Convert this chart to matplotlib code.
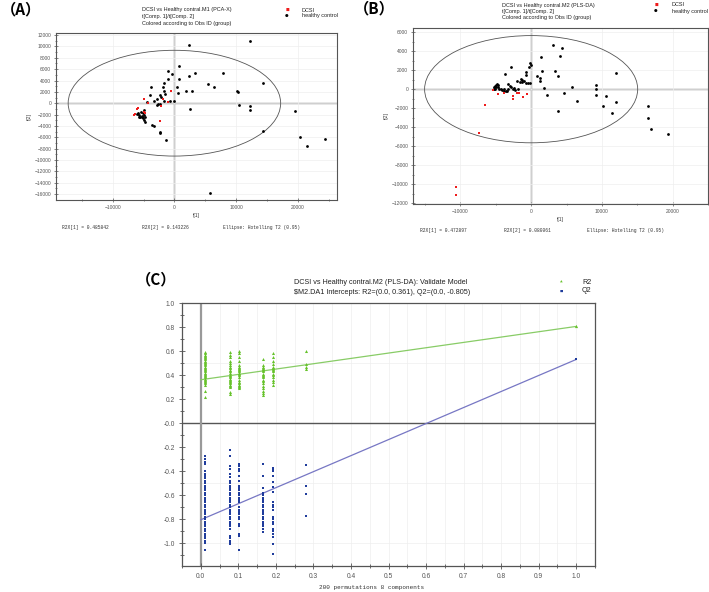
import matplotlib.pyplot as plt
from matplotlib.patches import Ellipse
import numpy as np

plt.rcParams['font.family'] = ['Liberation Sans', 'DejaVu Sans']

# --- Panel A: PCA-X scores (t[1], t[2]) ---
a_hc_x = [2300, 12300, 800, -1000, -400, 2300, 3400, 7900, 800, -1100, -1700, 5400, 6400, 14300,
          -3800, -1900, 400, -1700, 1900, 2800, 600, 10100, 10300, -1500, -3900, -2300, -2100,
          -2900, -3300, -4400, -1700, -700, -100, -2600, -2300, -2800, 10500, 12300, 12300, 2600,
          19500, -5000, -5840, -5680, -5570, -5300, -5030, -4920, -4760, -5460, -5140, -4860,
          -5680, -5240, -6000, -4700, -3700, -3300, -2400, -2300, -1400, 5700, 14300, 20300,
          21400, 24300]
a_hc_y = [10300, 11000, 6600, 5750, 5200, 4800, 5300, 5400, 4300, 4300, 3600, 3400, 2900, 3600,
          2900, 2800, 2800, 2200, 2100, 2100, 1800, 2200, 2000, 1600, 1400, 1400, 1100,
          650, 470, 180, 400, 470, 300, -60, -200, -300, -350, -500, -1200, -1100,
          -1350, -1200, -1820, -2110, -2410, -2520, -2700, -2990, -3290, -1530, -1700, -2110,
          -2520, -2230, -1940, -2520, -3900, -4000, -5000, -5300, -6500, -15900, -4900, -6000,
          -7500, -6300]
a_dcsi_x = [-4900, -500, -1900, -2100, -1000, -6100, -5900, -6600, -6400, -4900, -4800, -2400, -4300]
a_dcsi_y = [700, 2200, 800, -500, 200, -1100, -900, -2100, -1900, -1500, -1800, -3200, 100]

# --- Panel B: PLS-DA scores ---
b_hc_x = [3120, 4360, 1450, 4100, -2860, -130, -40, -340, -770, -770, -3680, 1580, 3330, 12050,
          850, 1280, 1320, 3800, -2050, -1500, -1320, -1240, -980, -680, -380, -170, -3210,
          -3030, 1840, 5770, 9230, 9150, 2180, 4620, 9190, 10640, 6540, 12010, 3760, 10210,
          11500, 16450, 16450, 16920, 19320, -5260, -5130, -5000, -4870, -4740, -4910, -4660,
          -4530, -5260, -5090, -4320, -4060, -3800, -3550, -3250, -2820, -2610, -2390, -2260,
          -3460, -3890, -1880, -1540]
b_hc_y = [4680, 4300, 3350, 3520, 2390, 2710, 2540, 2360, 1830, 1480, 1550, 1940, 1940, 1730,
          1340, 1230, 880, 1370, 880, 1060, 950, 770, 880, 630, 700, 670, 600,
          350, 110, 280, 460, 0, -630, -390, -600, -700, -1270, -1300, -2320, -1760,
          -2540, -1760, -3030, -4150, -4680, 280, 350, 420, 530, 420, 180, 280,
          70, 70, 0, 0, -110, -210, -210, 0, 180, 70, 140, -70,
          -140, 70, 0, 810]
b_dcsi_x = [-5380, -4620, -3850, -2610, -2520, -2010, -1750, -1110, -600, -6580, -7440, -10680, -10600]
b_dcsi_y = [-70, -530, -350, -990, -700, -420, -420, -810, -530, -1690, -4610, -10280, -11160]

# --- Panel C: permutation test ---
perm_x = [0.012, 0.077, 0.102, 0.165, 0.193, 0.281]
r2_cols = [
    [0.59, 0.58, 0.57, 0.56, 0.55, 0.54, 0.53, 0.52, 0.51, 0.50, 0.49, 0.48, 0.47, 0.46, 0.45,
     0.44, 0.43, 0.42, 0.41, 0.40, 0.39, 0.38, 0.37, 0.36, 0.35, 0.34, 0.33, 0.32, 0.27, 0.22],
    [0.59, 0.57, 0.55, 0.52, 0.50, 0.48, 0.47, 0.46, 0.44, 0.43, 0.42, 0.40, 0.39, 0.38, 0.37,
     0.36, 0.35, 0.34, 0.33, 0.32, 0.31, 0.30, 0.26, 0.24],
    [0.60, 0.58, 0.55, 0.52, 0.48, 0.47, 0.46, 0.45, 0.44, 0.43, 0.42, 0.41, 0.40, 0.38, 0.36,
     0.34, 0.33, 0.32, 0.31, 0.30, 0.29],
    [0.53, 0.48, 0.47, 0.46, 0.45, 0.44, 0.43, 0.41, 0.40, 0.39, 0.38, 0.36, 0.35, 0.33, 0.31,
     0.29, 0.27, 0.25, 0.23],
    [0.58, 0.55, 0.52, 0.49, 0.47, 0.46, 0.45, 0.44, 0.43, 0.41, 0.40, 0.38, 0.36, 0.34, 0.32],
    [0.60, 0.49, 0.47, 0.45],
]
q2_cols = [
    [-0.27, -0.30, -0.32, -0.34, -0.40, -0.42, -0.44, -0.46, -0.48, -0.50, -0.52, -0.54, -0.56,
     -0.58, -0.60, -0.62, -0.64, -0.66, -0.68, -0.70, -0.72, -0.74, -0.76, -0.78, -0.80, -0.82,
     -0.84, -0.86, -0.88, -0.90, -0.92, -0.94, -0.96, -0.98, -1.00, -1.06],
    [-0.22, -0.27, -0.36, -0.38, -0.42, -0.45, -0.48, -0.50, -0.52, -0.54, -0.56, -0.58, -0.60,
     -0.62, -0.64, -0.66, -0.68, -0.70, -0.72, -0.74, -0.76, -0.78, -0.80, -0.82, -0.84, -0.86,
     -0.88, -0.94, -0.96, -0.98, -1.00, -1.01],
    [-0.34, -0.36, -0.38, -0.40, -0.44, -0.48, -0.52, -0.54, -0.56, -0.58, -0.60, -0.62, -0.64,
     -0.66, -0.70, -0.72, -0.74, -0.76, -0.78, -0.80, -0.84, -0.86, -0.92, -0.94, -1.06],
    [-0.34, -0.44, -0.54, -0.58, -0.60, -0.62, -0.64, -0.66, -0.68, -0.70, -0.72, -0.74, -0.76,
     -0.78, -0.80, -0.82, -0.84, -0.86, -0.88, -0.91],
    [-0.37, -0.39, -0.40, -0.44, -0.49, -0.53, -0.57, -0.66, -0.68, -0.70, -0.72, -0.78, -0.80,
     -0.82, -0.84, -0.88, -0.90, -0.92, -0.95, -1.01, -1.09],
    [-0.35, -0.52, -0.59, -0.77],
]
line_x = [0.0, 1.0]
r2_line = [0.361, 0.805]
q2_line = [-0.805, 0.53]

TICK_C = '#555555'
MONO = 'Liberation Mono'
CJK = ['Noto Sans CJK SC', 'DejaVu Sans']


def score_panel(ax, hc_x, hc_y, dc_x, dc_y, xlim, ylim, ell, yticks):
    ax.set_xlim(*xlim)
    ax.set_ylim(*ylim)
    ax.set_xticks([-10000, 0, 10000, 20000])
    ax.set_xticks(np.arange(-15000, 25001, 5000), minor=True)
    ax.set_yticks(yticks)
    ax.set_yticks(np.arange(yticks[0], yticks[-1] + 1, 1000), minor=True)
    ax.tick_params(which='both', direction='inout', length=3, width=0.5, colors=TICK_C,
                   labelsize=3.5, pad=2)
    ax.tick_params(which='minor', length=2)
    ax.grid(True, which='major', color='#eeeeee', linewidth=0.5)
    for s in ax.spines.values():
        s.set_color('#555555')
        s.set_linewidth(0.8)
    ax.axhline(0, color='#888888', linewidth=1.0, zorder=1)
    ax.axvline(0, color='#888888', linewidth=1.0, zorder=1)
    ax.add_patch(Ellipse((0, 0), 2 * ell[0], 2 * ell[1], fill=False, edgecolor='#555555',
                         linewidth=0.6, zorder=2))
    ax.plot(hc_x, hc_y, 'o', color='black', markersize=2.0, markeredgewidth=0, zorder=3)
    ax.plot(dc_x, dc_y, 's', color='#ee1c1c', markersize=2.0, markeredgewidth=0, zorder=4,
            snap=False)


fig = plt.figure(figsize=(7.09, 5.92), dpi=100)
W, H = 709, 592


def fx(px):
    return px / W


def fy(py):
    return 1 - py / H


# ---------- Panel A ----------
axA = fig.add_axes([fx(56), fy(200), fx(337 - 56), (200 - 33) / H])
score_panel(axA, a_hc_x, a_hc_y, a_dcsi_x, a_dcsi_y, (-19170, 26320), (-17080, 12380),
            (17200, 9330), list(range(-16000, 12001, 2000)))
axA.set_xlabel('t[1]', fontsize=3.5, labelpad=2, color='#333333')
axA.set_ylabel('t[2]', fontsize=3.5, labelpad=2, color='#333333')

fig.text(fx(1), fy(9), '（A）', fontsize=11, fontweight='bold', va='center', family=CJK)
for i, t in enumerate(['DCSI vs Healthy contral.M1 (PCA-X)', 't[Comp. 1]/t[Comp. 2]',
                       'Colored according to Obs ID (group)']):
    fig.text(fx(142), fy(10 + 6.5 * i), t, fontsize=4, va='center', color='#222222')
fig.text(fx(287), fy(10), '■', color='#ee1c1c', fontsize=2.8, va='center', ha='center', family='DejaVu Sans')
fig.text(fx(287), fy(16), '●', color='black', fontsize=3, va='center', ha='center', family='DejaVu Sans')
fig.text(fx(302), fy(10), 'DCSI', fontsize=4, va='center', color='#222222')
fig.text(fx(302), fy(16), 'healthy control', fontsize=4, va='center', color='#222222')
for x, t in [(62, 'R2X[1] = 0.485842'), (142, 'R2X[2] = 0.143226'),
             (223, 'Ellipse: Hotelling T2 (0.95)')]:
    fig.text(fx(x), fy(227), t, fontsize=3.3, family=MONO, va='center', color='#333333')

# ---------- Panel B ----------
axB = fig.add_axes([fx(413), fy(204), fx(708 - 413), (204 - 28) / H])
score_panel(axB, b_hc_x, b_hc_y, b_dcsi_x, b_dcsi_y, (-16700, 21100), (-12100, 6450),
            (15060, 5650), list(range(-12000, 6001, 2000)))
axB.set_xlabel('t[1]', fontsize=3.5, labelpad=2, color='#333333')
axB.set_ylabel('t[2]', fontsize=3.5, labelpad=2, color='#333333')

fig.text(fx(354), fy(8), '（B）', fontsize=11, fontweight='bold', va='center', family=CJK)
for i, t in enumerate(['DCSI vs Healthy contral.M2 (PLS-DA)', 't[Comp. 1]/t[Comp. 2]',
                       'Colored according to Obs ID (group)']):
    fig.text(fx(502), fy(5 + 6.5 * i), t, fontsize=4, va='center', color='#222222')
fig.text(fx(656), fy(5), '■', color='#ee1c1c', fontsize=2.8, va='center', ha='center', family='DejaVu Sans')
fig.text(fx(656), fy(11), '●', color='black', fontsize=3, va='center', ha='center', family='DejaVu Sans')
fig.text(fx(672), fy(5), 'DCSI', fontsize=4, va='center', color='#222222')
fig.text(fx(672), fy(11), 'healthy control', fontsize=4, va='center', color='#222222')
for x, t in [(420, 'R2X[1] = 0.472897'), (504, 'R2X[2] = 0.080061'),
             (587, 'Ellipse: Hotelling T2 (0.95)')]:
    fig.text(fx(x), fy(231), t, fontsize=3.3, family=MONO, va='center', color='#333333')

# ---------- Panel C ----------
axC = fig.add_axes([fx(182), fy(566), fx(595 - 182), (566 - 303) / H])
axC.set_xlim(-0.05, 1.05)
axC.set_ylim(-1.19, 1.0)
axC.set_xticks(np.arange(0, 1.01, 0.1))
axC.set_xticks(np.arange(-0.05, 1.051, 0.05), minor=True)
axC.set_yticks(np.arange(-1.0, 1.01, 0.2))
axC.set_yticks(np.arange(-1.1, 1.01, 0.1), minor=True)
axC.set_yticklabels(['-1.0', '-0.8', '-0.6', '-0.4', '-0.2', '-0.0', '0.2', '0.4', '0.6', '0.8', '1.0'])
axC.set_xticklabels(['%.1f' % v for v in np.arange(0, 1.01, 0.1)])
axC.tick_params(which='both', direction='inout', length=4, width=0.6, colors=TICK_C,
                labelsize=4.8, pad=3)
axC.tick_params(which='minor', length=3)
for v in np.arange(-0.05, 1.051, 0.05):
    axC.axvline(v, color='#eeeeee', linewidth=0.5, zorder=0)
for v in [-1.0, -0.5, 0.5]:
    axC.axhline(v, color='#eeeeee', linewidth=0.5, zorder=0)
for s in axC.spines.values():
    s.set_color('#555555')
    s.set_linewidth(0.9)
axC.axhline(0, color='#555555', linewidth=1.0, zorder=1)
axC.axvline(0, color='#999999', linewidth=1.6, zorder=1)

axC.plot(line_x, r2_line, color='#88cc66', linewidth=0.9, zorder=2)
axC.plot(line_x, q2_line, color='#7777c4', linewidth=0.9, zorder=2)
for x, col in zip(perm_x, r2_cols):
    axC.plot([x] * len(col), col, '^', color='#66c22a', markersize=2.2, markeredgewidth=0, zorder=3,
             snap=False)
for x, col in zip(perm_x, q2_cols):
    axC.plot([x] * len(col), col, 's', color='#1f3c9c', markersize=2.0, markeredgewidth=0, zorder=3,
             snap=False)
axC.plot([line_x[1]], [r2_line[1]], '^', color='#66c22a', markersize=2.3, markeredgewidth=0, zorder=3,
         snap=False)
axC.plot([line_x[1]], [q2_line[1]], 's', color='#1f3c9c', markersize=2.0, markeredgewidth=0, zorder=3,
         snap=False)

fig.text(fx(294), fy(282), 'DCSI vs Healthy contral.M2 (PLS-DA): Validate Model', fontsize=5.2,
         va='center', color='#222222')
fig.text(fx(294), fy(292), r'\$M2.DA1 Intercepts: R2=(0.0, 0.361), Q2=(0.0, -0.805)',
         fontsize=5.2, va='center', color='#222222')
fig.text(fx(561), fy(282), '▲', color='#66c22a', fontsize=2.5, va='center', ha='center', family='DejaVu Sans')
fig.text(fx(561), fy(291), '■', color='#1f3c9c', fontsize=2.5, va='center', ha='center', family='DejaVu Sans')
fig.text(fx(582), fy(282), 'R2', fontsize=5.2, va='center', color='#222222')
fig.text(fx(582), fy(291), 'Q2', fontsize=5.2, va='center', color='#222222')
fig.text(fx(136), fy(279), '（C）', fontsize=11, fontweight='bold', va='center', family=CJK)
fig.text(fx(372), fy(587), '200 permutations 8 components', fontsize=4.3, family=MONO,
         ha='center', va='center', color='#333333')

fig.savefig('out.png', dpi=100)
